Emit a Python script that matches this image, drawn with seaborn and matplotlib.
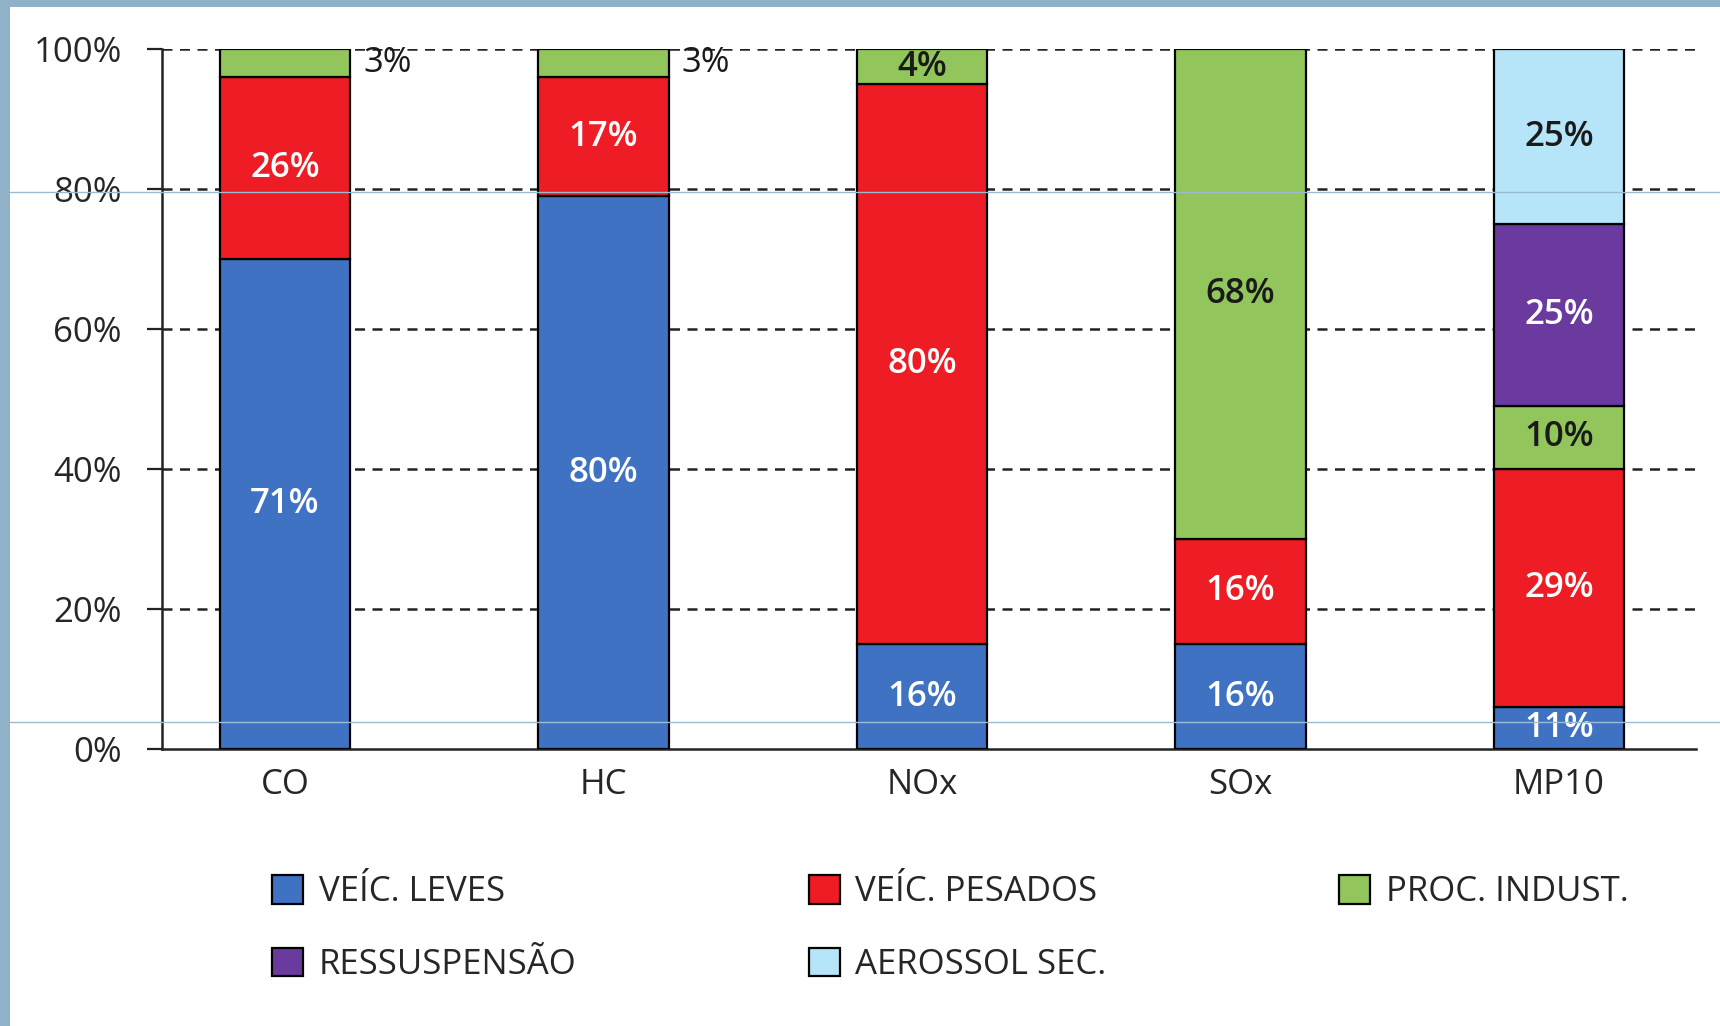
import matplotlib.pyplot as plt
from matplotlib.patches import Rectangle
from matplotlib.lines import Line2D
from matplotlib import ticker
import pandas as pd
import seaborn as sns

sns.set_style('white')
plt.rcParams['font.family'] = ['Open Sans', 'DejaVu Sans']

pollutants = ['CO', 'HC', 'NOx', 'SOx', 'MP10']
sources = ['VEÍC. LEVES', 'VEÍC. PESADOS', 'PROC. INDUST.', 'RESSUSPENSÃO', 'AEROSSOL SEC.']
colors = ['#3f72c2', '#ee1c25', '#92c65c', '#6b3a9e', '#b6e4f8']
text_colors = ['white', 'white', '#1a1a1a', 'white', '#1a1a1a']

# segment heights as drawn in the picture
leves = [70, 79, 15, 15, 6]
pesados = [26, 17, 80, 15, 34]
industria = [4, 4, 5, 70, 9]
ressusp = [0, 0, 0, 0, 26]
aerossol = [0, 0, 0, 0, 25]

# printed labels
lab_leves = ['71%', '80%', '16%', '16%', '11%']
lab_pesados = ['26%', '17%', '80%', '16%', '29%']
lab_industria = ['3%', '3%', '4%', '68%', '10%']
lab_ressusp = ['', '', '', '', '25%']
lab_aerossol = ['', '', '', '', '25%']
outside = ['CO', 'HC']  # small green labels written beside the bar

heights = [leves, pesados, industria, ressusp, aerossol]
labels = [lab_leves, lab_pesados, lab_industria, lab_ressusp, lab_aerossol]

rows = []
for s, h, l in zip(sources, heights, labels):
    for p, v, t in zip(pollutants, h, l):
        rows.append({'pollutant': p, 'source': s, 'value': v, 'label': t})
df = pd.DataFrame(rows)
df['bottom'] = df.groupby('pollutant')['value'].cumsum() - df['value']

fig = plt.figure(figsize=(17.2, 10.26), dpi=100, facecolor='#8fb2c9')
fig.add_artist(Rectangle((10 / 1720, 0), 1, 1 - 7 / 1026, transform=fig.transFigure,
                         facecolor='white', edgecolor='none', zorder=-5))
for yy in [192, 722]:
    fig.add_artist(Line2D([10 / 1720, 1], [1 - yy / 1026] * 2, transform=fig.transFigure,
                          color='#9bbcd0', lw=1, zorder=10))

ax = fig.add_axes([162 / 1720, 1 - 749 / 1026, (1696 - 162) / 1720, 700 / 1026])
ax.set_facecolor('none')

fs = 25
for src, col, tcol in zip(sources, colors, text_colors):
    d = df[(df['source'] == src) & (df['value'] > 0)]
    sns.barplot(data=d, x='pollutant', y='value', order=pollutants, bottom=d['bottom'].values,
                color=col, saturation=1, width=0.41, edgecolor='black', linewidth=1.6,
                ax=ax, zorder=3)
    bars = ax.containers[-1]
    for bar, (_, r) in zip(bars, d.iterrows()):
        cx = bar.get_x() + bar.get_width() / 2
        cy = bar.get_y() + bar.get_height() / 2
        if r['source'] == 'PROC. INDUST.' and r['pollutant'] in outside:
            ax.text(bar.get_x() + bar.get_width() + 0.04, 98, r['label'], ha='left',
                    va='center', fontsize=fs, color='#1a1a1a', zorder=5)
        else:
            ax.text(cx, cy, r['label'], ha='center', va='center', fontsize=fs,
                    color=tcol, fontweight='semibold', zorder=5)

ax.set_xlim(-0.386, 4.43)
ax.set_ylim(0, 100)
ax.yaxis.set_major_locator(ticker.MultipleLocator(20))
ax.yaxis.set_major_formatter(ticker.FuncFormatter(lambda v, p: f'{v:.0f}%'))
for v in range(20, 101, 20):
    ax.axhline(v, color='#222222', lw=1.8, ls=(0, (4, 3)), zorder=1)

ax.xaxis.set_minor_locator(ticker.FixedLocator([0.5, 1.5, 2.5, 3.5, 4.43]))
ax.tick_params(axis='x', which='major', length=0, pad=14, labelsize=fs)
ax.tick_params(axis='x', which='minor', length=11, width=1.6, direction='out', color='#222222')
ax.tick_params(axis='y', length=11, width=1.6, direction='out', pad=18, labelsize=fs,
               color='#222222', left=True)
ax.set_xlabel('')
ax.set_ylabel('')
sns.despine(ax=ax, top=True, right=True)
for s in ['left', 'bottom']:
    ax.spines[s].set_color('#222222')
    ax.spines[s].set_linewidth(1.8)

handles = [Rectangle((0, 0), 1, 1, facecolor=c, edgecolor='black', lw=1.6) for c in colors]
order = [0, 3, 1, 4, 2]
fig.legend([handles[i] for i in order], [sources[i] for i in order], ncol=3,
           loc='upper left', bbox_to_anchor=(272 / 1720, 1 - 875 / 1026), frameon=False,
           fontsize=fs, handlelength=0.9, handleheight=0.9, handletextpad=0.45,
           columnspacing=6.68, labelspacing=1.1, borderpad=0, borderaxespad=0)

fig.savefig('out.png', dpi=100, facecolor=fig.get_facecolor())
